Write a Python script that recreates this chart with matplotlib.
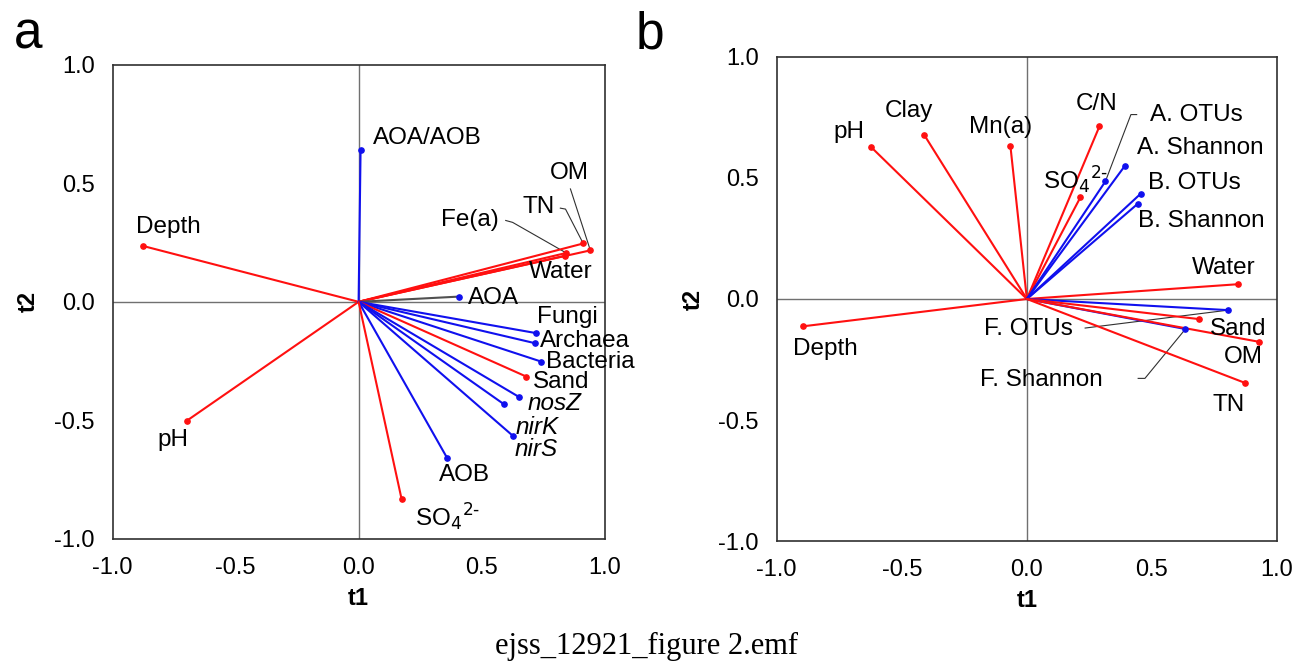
import matplotlib
matplotlib.use("Agg")
import matplotlib.pyplot as plt

plt.rcParams['font.family'] = ['Liberation Sans', 'DejaVu Sans']

RED = '#ff1010'
BLUE = '#1010ee'
GRAY = '#505050'

# ---------------- Panel a data ----------------
a_names = ['AOA/AOB', 'Depth', 'pH', 'OM', 'TN', 'Fe(a)', 'Water', 'AOA',
           'Fungi', 'Archaea', 'Bacteria', 'Sand', 'nosZ', 'nirK', 'nirS',
           'AOB', 'SO4']
a_t1 = [0.008, -0.878, -0.699, 0.942, 0.913, 0.844, 0.838, 0.408,
        0.722, 0.715, 0.742, 0.681, 0.650, 0.591, 0.627, 0.359, 0.175]
a_t2 = [0.641, 0.236, -0.502, 0.217, 0.246, 0.206, 0.194, 0.022,
        -0.132, -0.174, -0.252, -0.315, -0.400, -0.432, -0.565, -0.657, -0.833]
a_kind = ['bio', 'env', 'env', 'env', 'env', 'env', 'env', 'aoa',
          'bio', 'bio', 'bio', 'env', 'bio', 'bio', 'bio', 'bio', 'env']
a_labels = ['AOA/AOB', 'Depth', 'pH', 'OM', 'TN', 'Fe(a)', 'Water', 'AOA',
            'Fungi', 'Archaea', 'Bacteria', 'Sand', 'nosZ', 'nirK',
            'nirS', 'AOB', r'SO$_4$$^{2\text{-}}$']
a_italic = [False, False, False, False, False, False, False, False,
            False, False, False, False, True, True, True, False, False]

# label placement (data coords) and horizontal alignment
a_lx = [0.057, -0.772, -0.756, 0.858, 0.732, 0.451, 0.821, 0.443,
        0.724, 0.736, 0.760, 0.707, 0.687, 0.638, 0.634, 0.431, 0.228]
a_ly = [0.692, 0.316, -0.582, 0.544, 0.401, 0.346, 0.127, 0.017,
        -0.066, -0.165, -0.255, -0.336, -0.430, -0.528, -0.624, -0.730, -0.907]
a_ha = ['left', 'center', 'center', 'center', 'center', 'center', 'center', 'left',
        'left', 'left', 'left', 'left', 'left', 'left', 'left', 'center', 'left']

# leader lines (panel a): name -> intermediate points
a_leaders = {
    'OM': [(0.861, 0.476)],
    'TN': [(0.820, 0.395), (0.841, 0.391)],
    'Fe(a)': [(0.598, 0.343), (0.626, 0.335)],
}

# ---------------- Panel b data ----------------
b_names = ['pH', 'Clay', 'Mn(a)', 'Depth', 'C/N', 'SO4', 'A. OTUs', 'A. Shannon',
           'B. OTUs', 'B. Shannon', 'Water', 'F. OTUs', 'Sand', 'F. Shannon', 'OM', 'TN']
b_t1 = [-0.625, -0.411, -0.066, -0.896, 0.290, 0.214, 0.314, 0.391,
        0.455, 0.444, 0.843, 0.805, 0.688, 0.634, 0.929, 0.873]
b_t2 = [0.630, 0.679, 0.634, -0.113, 0.713, 0.420, 0.486, 0.549,
        0.435, 0.394, 0.061, -0.046, -0.083, -0.124, -0.177, -0.347]
b_kind = ['env', 'env', 'env', 'env', 'env', 'env', 'bio', 'bio',
          'bio', 'bio', 'env', 'bio', 'env', 'bio', 'env', 'env']
b_labels = ['pH', 'Clay', 'Mn(a)', 'Depth', 'C/N', r'SO$_4$$^{2\text{-}}$', 'A. OTUs',
            'A. Shannon', 'B. OTUs', 'B. Shannon', 'Water', 'F. OTUs', 'Sand',
            'F. Shannon', 'OM', 'TN']
b_italic = [False] * len(b_labels)
b_lx = [-0.711, -0.472, -0.106, -0.807, 0.277, 0.066, 0.492, 0.440,
        0.484, 0.444, 0.659, -0.173, 0.731, -0.189, 0.787, 0.743]
b_ly = [0.691, 0.778, 0.712, -0.205, 0.807, 0.489, 0.762, 0.625,
        0.481, 0.324, 0.129, -0.123, -0.123, -0.333, -0.238, -0.436]
b_ha = ['center', 'center', 'center', 'center', 'center', 'left', 'left', 'left',
        'left', 'left', 'left', 'left', 'left', 'left', 'left', 'left']
b_leaders = {
    'A. OTUs': [(0.439, 0.762), (0.416, 0.762)],
    'F. OTUs': [(0.233, -0.120)],
    'F. Shannon': [(0.445, -0.328), (0.472, -0.328)],
}

ticks = [-1.0, -0.5, 0.0, 0.5, 1.0]
tick_labels = ['-1.0', '-0.5', '0.0', '0.5', '1.0']

FS = 17.5
TFS = 17

fig = plt.figure(figsize=(13, 6.64), dpi=100)
ax_a = fig.add_axes([0.0866, 0.1883, 0.3785, 0.7143])
ax_b = fig.add_axes([0.5975, 0.1852, 0.3848, 0.7290])


def draw_panel(ax, names, xs, ys, kinds, labels, italic, lx, ly, ha, leaders):
    ax.set_xlim(-1, 1)
    ax.set_ylim(-1, 1)
    ax.axhline(0, color='#707070', lw=1.0, zorder=1)
    ax.axvline(0, color='#707070', lw=1.0, zorder=1)
    for n, x, y, k in zip(names, xs, ys, kinds):
        if k == 'env':
            c, lc = RED, RED
        elif k == 'bio':
            c, lc = BLUE, BLUE
        else:
            c, lc = BLUE, GRAY
        ax.plot([0, x], [0, y], color=lc, lw=1.5, zorder=3, solid_capstyle='round')
        ax.plot([x], [y], 'o', color=c, ms=3.8, zorder=4)
    for n, x, y, lab, it, tx, ty, h in zip(names, xs, ys, labels, italic, lx, ly, ha):
        ax.text(tx, ty, lab, ha=h, va='center', fontsize=FS, color='black',
                fontstyle='italic' if it else 'normal', zorder=5)
        if n in leaders:
            pts = leaders[n] + [(x, y)]
            ax.plot([p[0] for p in pts], [p[1] for p in pts], color='#303030',
                    lw=0.8, zorder=2)
    ax.set_xticks(ticks)
    ax.set_yticks(ticks)
    ax.set_xticklabels(tick_labels)
    ax.set_yticklabels(tick_labels)
    ax.tick_params(length=0, labelsize=TFS, pad=13)
    for s in ax.spines.values():
        s.set_color('#303030')
        s.set_linewidth(1.2)
    ax.set_xlabel('t1', fontsize=TFS, fontweight='bold', labelpad=6)
    ax.set_ylabel('t2', fontsize=TFS, fontweight='bold', labelpad=10)


draw_panel(ax_a, a_names, a_t1, a_t2, a_kind, a_labels, a_italic, a_lx, a_ly, a_ha, a_leaders)
draw_panel(ax_b, b_names, b_t1, b_t2, b_kind, b_labels, b_italic, b_lx, b_ly, b_ha, b_leaders)

fig.text(0.0215, 0.947, 'a', fontsize=37, ha='center', va='center')
fig.text(0.5, 0.947, 'b', fontsize=37, ha='center', va='center')
fig.text(0.4975, 0.027, 'ejss_12921_figure 2.emf', fontsize=22,
         family=['Liberation Serif', 'DejaVu Serif'], ha='center', va='center')

fig.savefig('out.png', dpi=100)
